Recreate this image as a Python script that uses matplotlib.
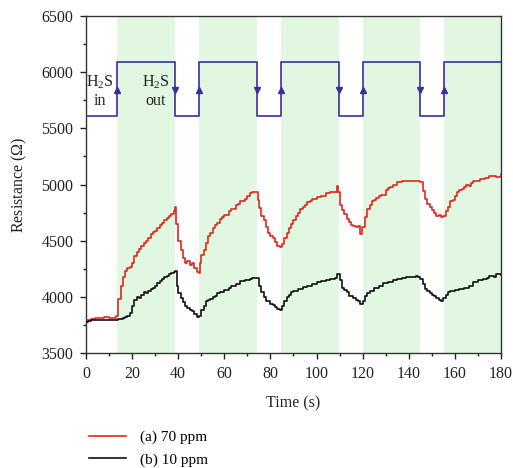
import numpy as np
import matplotlib
matplotlib.use("Agg")
import matplotlib.pyplot as plt

plt.rcParams['font.family'] = ['Liberation Serif', 'DejaVu Serif']
plt.rcParams['mathtext.fontset'] = 'custom'
plt.rcParams['mathtext.rm'] = 'Liberation Serif'
plt.rcParams['mathtext.it'] = 'Liberation Serif:italic'

# gas on/off periods (s)
gas_on = [13.6, 49.0, 84.7, 120.3, 155.4]
gas_off = [38.6, 74.0, 109.6, 145.0, 180.0]
pulse_low, pulse_high = 5610, 6090
arrow_level = 5840

# (a) 70 ppm
t_a = [0, 2, 4, 6, 8, 10, 12, 13, 14, 15, 16, 17, 18, 19, 20, 21, 22, 23, 24, 25,
       26, 27, 28, 29, 30, 31, 32, 33, 34, 35, 36, 37, 38, 38.6, 39, 40, 41, 42, 43, 44,
       45, 46, 47, 48, 49, 49.5, 50, 51, 52, 53, 54, 55, 56, 57, 58, 59, 60, 62, 63, 65,
       66, 67, 69, 70, 71, 72, 74, 74.5, 75, 76, 77, 78, 79, 80, 81, 82, 83, 84, 85, 86,
       87, 88, 89, 90, 91, 92, 93, 94, 95, 96, 97, 98, 100, 102, 104, 106, 108, 109, 109.5, 110,
       111, 112, 113, 114, 115, 116, 117, 118, 119, 119.5, 120, 121, 122, 123, 124, 125, 126, 127, 128, 130,
       131, 132, 133, 135, 137, 140, 143, 145, 146, 147, 148, 149, 150, 151, 152, 153, 154, 155, 156, 157,
       158, 159, 160, 161, 162, 163, 164, 165, 166, 167, 168, 170, 171, 173, 175, 177, 178, 180]
r_a = [3790, 3805, 3815, 3810, 3820, 3812, 3808, 3830, 3980, 4100, 4180, 4230, 4260, 4270, 4300, 4360, 4400, 4430, 4450, 4480,
       4500, 4520, 4560, 4580, 4590, 4610, 4640, 4660, 4680, 4700, 4720, 4740, 4760, 4800, 4650, 4500, 4420, 4350, 4300, 4320,
       4280, 4300, 4260, 4220, 4210, 4300, 4370, 4420, 4480, 4540, 4570, 4610, 4640, 4660, 4690, 4710, 4730, 4760, 4780, 4820,
       4830, 4850, 4870, 4900, 4920, 4930, 4930, 4860, 4790, 4720, 4680, 4620, 4570, 4540, 4520, 4490, 4450, 4440, 4470, 4520,
       4570, 4610, 4650, 4680, 4720, 4750, 4780, 4800, 4820, 4840, 4850, 4870, 4890, 4900, 4920, 4930, 4930, 4990, 4930, 4820,
       4770, 4740, 4690, 4670, 4640, 4630, 4620, 4630, 4560, 4620, 4620, 4710, 4780, 4820, 4850, 4860, 4880, 4900, 4910, 4950,
       4970, 4980, 5000, 5020, 5030, 5030, 5030, 5020, 4940, 4870, 4830, 4800, 4770, 4750, 4720, 4730, 4710, 4720, 4760, 4800,
       4850, 4860, 4900, 4930, 4950, 4960, 4980, 5000, 4990, 5010, 5030, 5030, 5050, 5060, 5080, 5080, 5070, 5090]

# (b) 10 ppm
t_b = [0, 1, 2, 4, 8, 12, 14, 16, 17, 18, 19, 20, 21, 22, 23, 24, 25, 26, 27, 28,
       29, 30, 31, 32, 33, 34, 35, 36, 37, 38, 38.8, 39.3, 40, 41, 42, 43, 44, 45, 46, 47,
       48, 49, 50, 51, 52, 53, 54, 55, 56, 57, 58, 60, 62, 63, 65, 67, 69, 71, 72, 74,
       75, 76, 77, 78, 79, 80, 81, 82, 83, 84, 85, 86, 87, 88, 89, 90, 92, 94, 96, 98,
       100, 102, 104, 106, 108, 109, 110, 111, 112, 113, 114, 115, 116, 117, 118, 119, 120, 121, 122, 123,
       125, 127, 129, 131, 133, 135, 137, 139, 141, 143, 144, 145, 146, 147, 148, 149, 150, 151, 152, 153,
       154, 155, 156, 157, 158, 160, 162, 164, 166, 168, 169, 170, 172, 174, 175, 177, 178, 180]
r_b = [3775, 3785, 3790, 3795, 3795, 3798, 3800, 3810, 3820, 3830, 3860, 3920, 3970, 4000, 3990, 4020, 4040, 4030, 4050, 4070,
       4080, 4100, 4120, 4140, 4160, 4180, 4190, 4200, 4210, 4225, 4230, 4100, 4030, 3990, 3950, 3920, 3900, 3880, 3870, 3850,
       3820, 3830, 3880, 3920, 3960, 3970, 3980, 4000, 4010, 4030, 4040, 4060, 4080, 4100, 4110, 4140, 4150, 4160, 4170, 4165,
       4100, 4040, 4000, 3960, 3960, 3940, 3930, 3910, 3890, 3880, 3920, 3960, 4000, 4020, 4040, 4050, 4070, 4090, 4100, 4110,
       4130, 4140, 4150, 4160, 4170, 4200, 4150, 4080, 4060, 4040, 4010, 4010, 3990, 3970, 3960, 3940, 3960, 4010, 4030, 4050,
       4080, 4100, 4120, 4130, 4150, 4160, 4170, 4175, 4180, 4190, 4180, 4160, 4110, 4070, 4050, 4030, 4020, 4010, 3990, 3970,
       3965, 3990, 4020, 4040, 4050, 4060, 4070, 4080, 4100, 4130, 4130, 4150, 4160, 4170, 4190, 4180, 4200, 4195]

fig = plt.figure(figsize=(5.13, 4.68), dpi=100)
ax = fig.add_axes([0.1676, 0.2457, 0.809, 0.7201])

for a, b in zip(gas_on, gas_off):
    ax.axvspan(a, b, color='#e2f7e2', lw=0, zorder=0)

# gas valve square wave
sq_t = [0]
sq_y = [pulse_low]
for a, b in zip(gas_on, gas_off):
    sq_t += [a, a, b, b]
    sq_y += [pulse_low, pulse_high, pulse_high, pulse_low if b < 180 else pulse_high]
wave_col = '#3a2ea0'
ax.plot(sq_t, sq_y, color=wave_col, lw=1.2, zorder=3)
ax.plot(gas_on, [arrow_level] * len(gas_on), '^', color=wave_col, ms=4.5, zorder=4)
ax.plot(gas_off[:-1], [arrow_level] * (len(gas_off) - 1), 'v', color=wave_col, ms=4.5, zorder=4)

txt = dict(ha='center', va='center', fontsize=11.5, color='#222222')
ax.text(6.2, 5910, 'H$_2$S', **txt)
ax.text(6.2, 5740, 'in', **txt)
ax.text(30.3, 5910, 'H$_2$S', **txt)
ax.text(30.3, 5740, 'out', **txt)

la, = ax.plot(t_a, r_a, color='#e0281c', lw=1.2, drawstyle='steps-post', zorder=5)
lb, = ax.plot(t_b, r_b, color='#111111', lw=1.2, drawstyle='steps-post', zorder=5)

ax.set_xlim(0, 180)
ax.set_ylim(3500, 6500)
ax.set_xticks(np.arange(0, 181, 20))
ax.set_xticks(np.arange(10, 180, 20), minor=True)
ax.set_yticks(np.arange(3500, 6501, 500))
ax.set_yticks(np.arange(3750, 6500, 500), minor=True)
ax.tick_params(which='major', direction='out', length=4, width=1, labelsize=11.5, colors='#222222', pad=5)
ax.tick_params(which='minor', direction='out', length=2.5, width=1, colors='#222222')
for s in ax.spines.values():
    s.set_color('#333333')
    s.set_linewidth(1.0)

ax.set_xlabel('Time (s)', fontsize=11.5, color='#222222', labelpad=10)
ax.set_ylabel(r'Resistance ($\mathit{\Omega}$)', fontsize=11.5, color='#222222', labelpad=9)

fig.legend([la, lb], ['(a) 70 ppm', '(b) 10 ppm'], loc='upper left',
           bbox_to_anchor=(0.162, 0.093), frameon=False, fontsize=11,
           handlelength=2.4, handletextpad=0.9, labelspacing=0.55, borderaxespad=0)

fig.savefig('out.png', dpi=100)
